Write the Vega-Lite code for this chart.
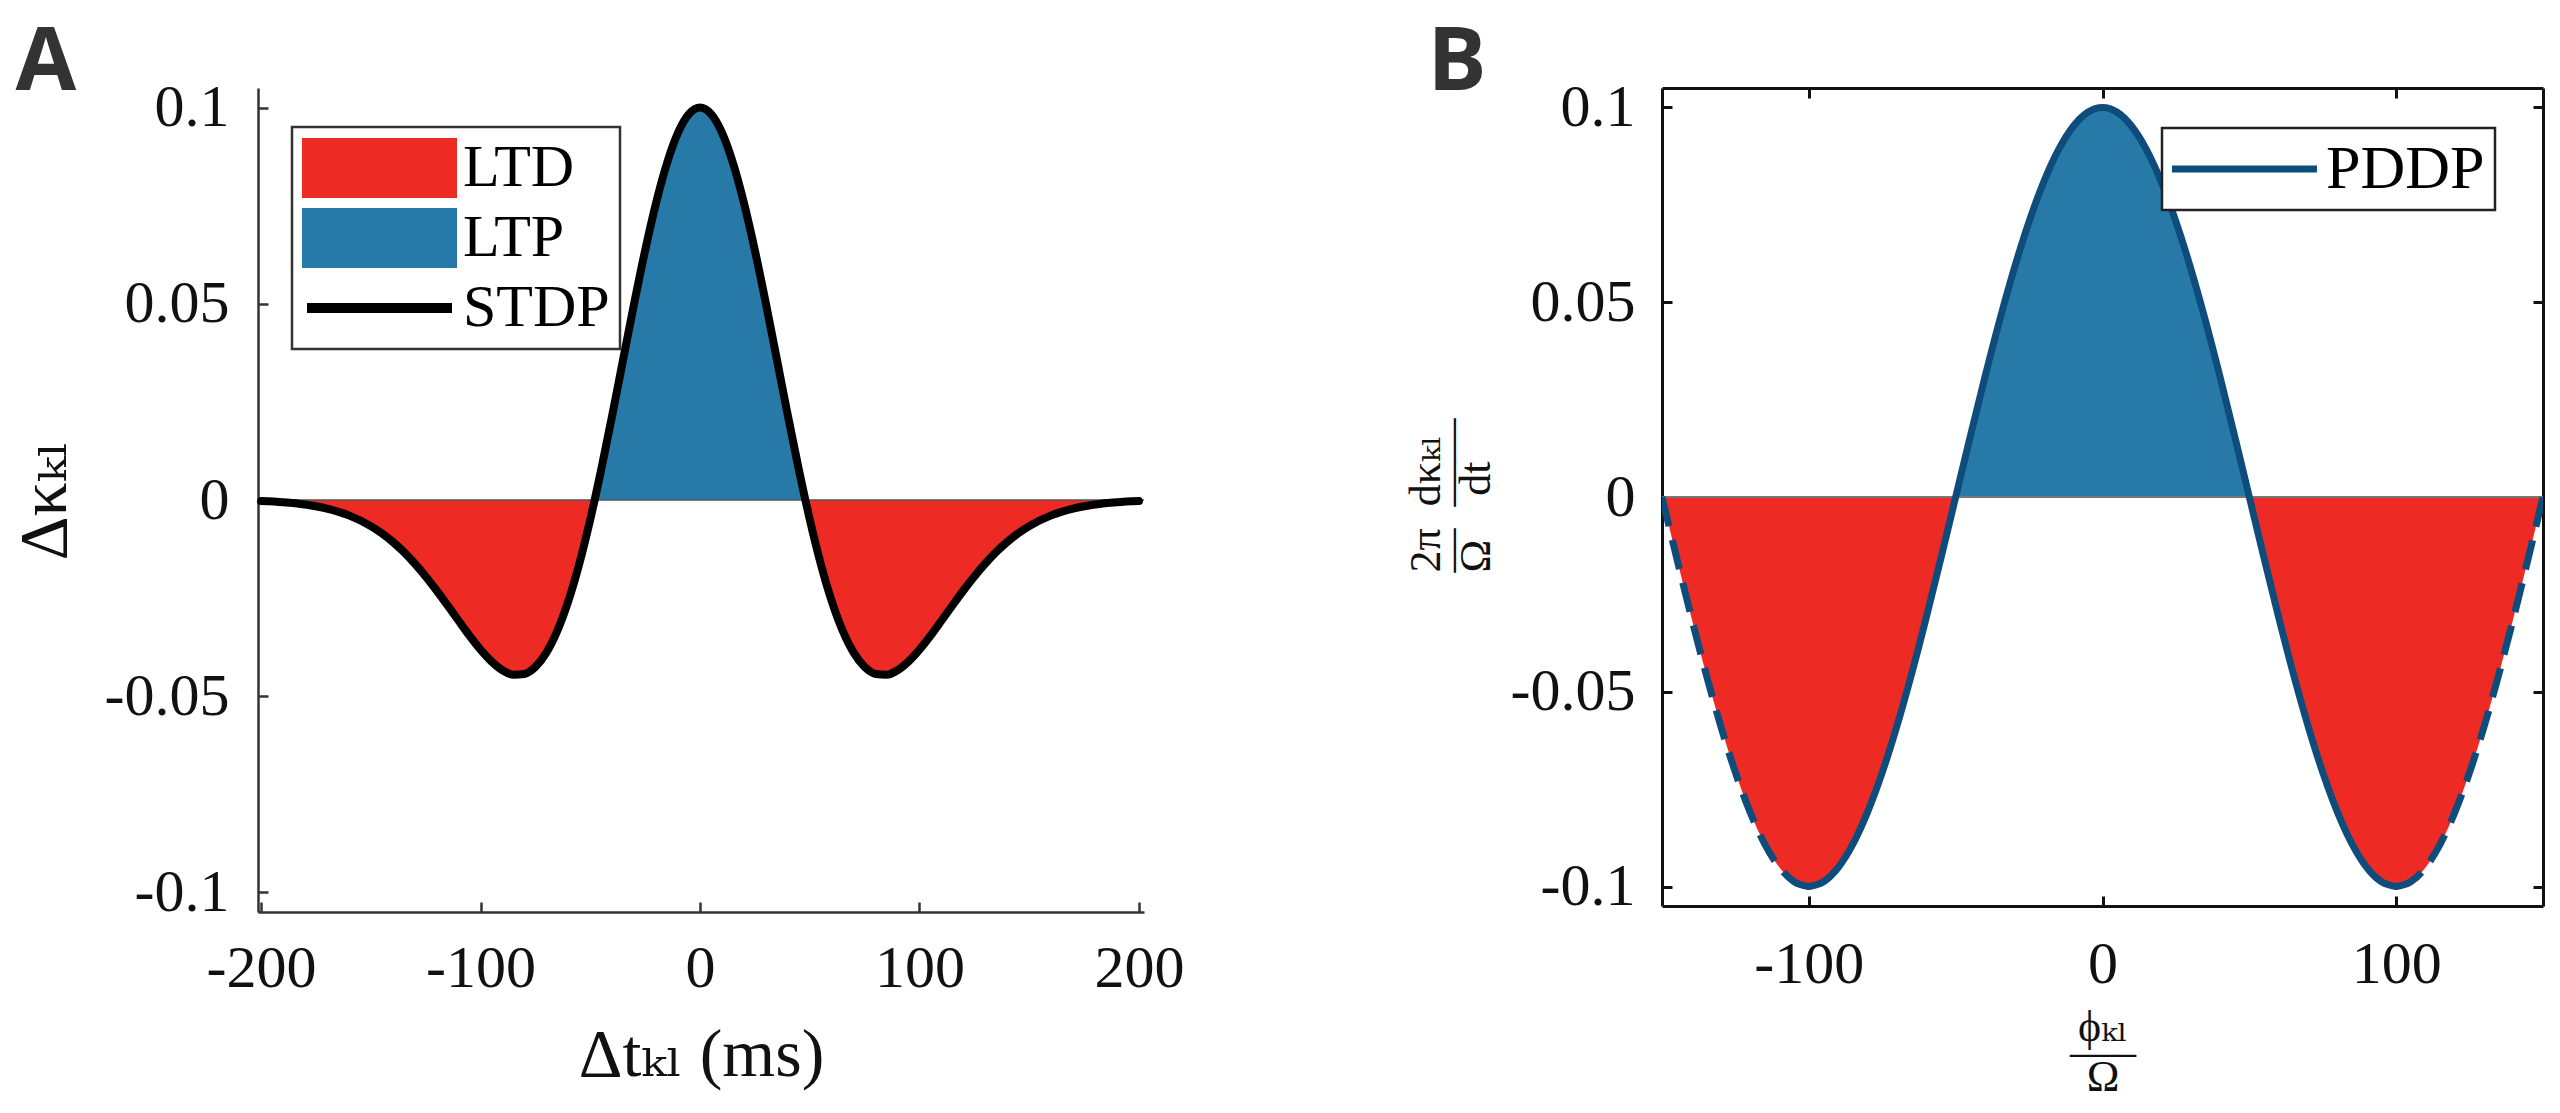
{
  "$schema": "https://vega.github.io/schema/vega-lite/v6.json",
  "background": "white",
  "padding": {"left": 11, "top": 19, "right": 0, "bottom": 0},
  "spacing": 220,
  "datasets": {
    "stdp": [
      {"t": -200, "v": -0.00028}, {"t": -190, "v": -0.00058}, {"t": -180, "v": -0.00115}, {"t": -170, "v": -0.00218},
      {"t": -160, "v": -0.00391}, {"t": -150, "v": -0.00664}, {"t": -145, "v": -0.00848}, {"t": -140, "v": -0.01067},
      {"t": -135, "v": -0.01323}, {"t": -130, "v": -0.01618}, {"t": -125, "v": -0.01947}, {"t": -120, "v": -0.02307},
      {"t": -115, "v": -0.02688}, {"t": -110, "v": -0.03077}, {"t": -105, "v": -0.0346}, {"t": -100, "v": -0.03813},
      {"t": -95, "v": -0.04115}, {"t": -90, "v": -0.04338}, {"t": -85, "v": -0.04453}, {"t": -80, "v": -0.04433},
      {"t": -75, "v": -0.04253}, {"t": -70, "v": -0.03891}, {"t": -65, "v": -0.03333}, {"t": -60, "v": -0.02575},
      {"t": -55, "v": -0.01623}, {"t": -50, "v": -0.00494}, {"t": -48, "v": 0}, {"t": -45, "v": 0.0078},
      {"t": -40, "v": 0.02159}, {"t": -35, "v": 0.0359}, {"t": -30, "v": 0.05013}, {"t": -25, "v": 0.06363},
      {"t": -20, "v": 0.07577}, {"t": -15, "v": 0.08593}, {"t": -10, "v": 0.09361}, {"t": -5, "v": 0.09838},
      {"t": 0, "v": 0.1},
      {"t": 5, "v": 0.09838}, {"t": 10, "v": 0.09361}, {"t": 15, "v": 0.08593}, {"t": 20, "v": 0.07577},
      {"t": 25, "v": 0.06363}, {"t": 30, "v": 0.05013}, {"t": 35, "v": 0.0359}, {"t": 40, "v": 0.02159},
      {"t": 45, "v": 0.0078}, {"t": 48, "v": 0}, {"t": 50, "v": -0.00494}, {"t": 55, "v": -0.01623},
      {"t": 60, "v": -0.02575}, {"t": 65, "v": -0.03333}, {"t": 70, "v": -0.03891}, {"t": 75, "v": -0.04253},
      {"t": 80, "v": -0.04433}, {"t": 85, "v": -0.04453}, {"t": 90, "v": -0.04338}, {"t": 95, "v": -0.04115},
      {"t": 100, "v": -0.03813}, {"t": 105, "v": -0.0346}, {"t": 110, "v": -0.03077}, {"t": 115, "v": -0.02688},
      {"t": 120, "v": -0.02307}, {"t": 125, "v": -0.01947}, {"t": 130, "v": -0.01618}, {"t": 135, "v": -0.01323},
      {"t": 140, "v": -0.01067}, {"t": 145, "v": -0.00848}, {"t": 150, "v": -0.00664}, {"t": 160, "v": -0.00391},
      {"t": 170, "v": -0.00218}, {"t": 180, "v": -0.00115}, {"t": 190, "v": -0.00058}, {"t": 200, "v": -0.00028}
    ],
    "pddp": [
      {"phi": -150, "v": 0}, {"phi": -145, "v": -0.01564}, {"phi": -140, "v": -0.0309}, {"phi": -135, "v": -0.0454},
      {"phi": -130, "v": -0.05878}, {"phi": -125, "v": -0.07071}, {"phi": -120, "v": -0.0809}, {"phi": -115, "v": -0.0891},
      {"phi": -110, "v": -0.09511}, {"phi": -105, "v": -0.09877}, {"phi": -100, "v": -0.1}, {"phi": -95, "v": -0.09877},
      {"phi": -90, "v": -0.09511}, {"phi": -85, "v": -0.0891}, {"phi": -80, "v": -0.0809}, {"phi": -75, "v": -0.07071},
      {"phi": -70, "v": -0.05878}, {"phi": -65, "v": -0.0454}, {"phi": -60, "v": -0.0309}, {"phi": -55, "v": -0.01564},
      {"phi": -50, "v": 0}, {"phi": -45, "v": 0.01564}, {"phi": -40, "v": 0.0309}, {"phi": -35, "v": 0.0454},
      {"phi": -30, "v": 0.05878}, {"phi": -25, "v": 0.07071}, {"phi": -20, "v": 0.0809}, {"phi": -15, "v": 0.0891},
      {"phi": -10, "v": 0.09511}, {"phi": -5, "v": 0.09877}, {"phi": 0, "v": 0.1},
      {"phi": 5, "v": 0.09877}, {"phi": 10, "v": 0.09511}, {"phi": 15, "v": 0.0891}, {"phi": 20, "v": 0.0809},
      {"phi": 25, "v": 0.07071}, {"phi": 30, "v": 0.05878}, {"phi": 35, "v": 0.0454}, {"phi": 40, "v": 0.0309},
      {"phi": 45, "v": 0.01564}, {"phi": 50, "v": 0}, {"phi": 55, "v": -0.01564}, {"phi": 60, "v": -0.0309},
      {"phi": 65, "v": -0.0454}, {"phi": 70, "v": -0.05878}, {"phi": 75, "v": -0.07071}, {"phi": 80, "v": -0.0809},
      {"phi": 85, "v": -0.0891}, {"phi": 90, "v": -0.09511}, {"phi": 95, "v": -0.09877}, {"phi": 100, "v": -0.1},
      {"phi": 105, "v": -0.09877}, {"phi": 110, "v": -0.09511}, {"phi": 115, "v": -0.0891}, {"phi": 120, "v": -0.0809},
      {"phi": 125, "v": -0.07071}, {"phi": 130, "v": -0.05878}, {"phi": 135, "v": -0.0454}, {"phi": 140, "v": -0.0309},
      {"phi": 145, "v": -0.01564}, {"phi": 150, "v": 0}
    ]
  },
  "config": {
    "view": {"stroke": null},
    "axis": {
      "grid": false,
      "labelFont": "Liberation Serif",
      "labelFontSize": 60,
      "labelColor": "#111111",
      "labelFlush": false,
      "labelOverlap": false,
      "titleFont": "Liberation Serif, DejaVu Serif",
      "titleFontWeight": "normal",
      "titleColor": "#111111",
      "tickSize": -10,
      "tickColor": "#333333",
      "tickWidth": 2.5,
      "domainColor": "#333333",
      "domainWidth": 2.5
    }
  },
  "resolve": {"scale": {"color": "independent"}, "legend": {"color": "independent"}},
  "hconcat": [
    {
      "width": 886,
      "height": 824,
      "data": {"name": "stdp"},
      "resolve": {"axis": {"x": "independent", "y": "independent"}},
      "layer": [
        {
          "transform": [{"filter": "datum.v <= 0"}],
          "mark": {"type": "area", "interpolate": "monotone"},
          "encoding": {
            "x": {"field": "t", "type": "quantitative", "scale": {"domain": [-201.4, 202.3], "nice": false, "zero": false},
              "axis": {"orient": "bottom", "values": [-200, -100, 0, 100, 200], "labelPadding": 37, "labelExpr": "replace(datum.label, '−', '-')",
                "title": "Δtₖₗ (ms)", "titleFontSize": 68, "titleY": 163, "titleBaseline": "alphabetic"}},
            "y": {"field": "v", "type": "quantitative", "scale": {"domain": [-0.105, 0.105], "nice": false, "zero": false},
              "axis": {"orient": "left", "values": [-0.1, -0.05, 0, 0.05, 0.1], "labelPadding": 39, "labelExpr": "'' + datum.value",
                "title": "Δκₖₗ", "titleFontSize": 68, "titleAngle": -90, "titleX": -193, "titleBaseline": "alphabetic"}},
            "y2": {"datum": 0},
            "color": {"datum": "LTD", "type": "nominal",
              "scale": {"domain": ["LTD", "LTP", "STDP"], "range": ["#ED2B24", "#277AA7", "#000000"]},
              "legend": {"title": null, "orient": "none", "legendX": 34, "legendY": 39, "padding": 10, "rowPadding": 8, "clipHeight": 62,
                "fillColor": "white", "strokeColor": "#333333",
                "symbolType": "M-14.5,-5H14.5V5H-14.5Z", "symbolSize": 100, "symbolStrokeWidth": 10, "symbolOffset": 47.5,
                "labelOffset": 53.5, "labelFont": "Liberation Serif", "labelFontSize": 60, "labelColor": "#000000",
                "encode": {
                  "legend": {"update": {"strokeWidth": {"value": 2.5}}},
                  "symbols": {"update": {
                    "shape": {"signal": "datum.value === 'STDP' ? 'M-14.5,0H14.5' : 'M-14.5,-5H14.5V5H-14.5Z'"},
                    "fill": {"signal": "datum.value === 'LTD' ? '#ED2B24' : datum.value === 'LTP' ? '#277AA7' : 'transparent'"},
                    "stroke": {"signal": "datum.value === 'STDP' ? '#000000' : 'transparent'"},
                    "strokeWidth": {"value": 10},
                    "strokeCap": {"value": "butt"},
                    "opacity": {"value": 1}
                  }}
                }}}
          }
        },
        {
          "transform": [{"filter": "datum.v >= 0"}],
          "mark": {"type": "area", "interpolate": "monotone"},
          "encoding": {
            "x": {"field": "t", "type": "quantitative", "axis": null},
            "y": {"field": "v", "type": "quantitative", "axis": null},
            "y2": {"datum": 0},
            "color": {"datum": "LTP", "type": "nominal"}
          }
        },
        {
          "data": {"values": [{}]},
          "mark": {"type": "rule", "color": "#555555", "strokeWidth": 1.5},
          "encoding": {"y": {"datum": 0, "type": "quantitative", "axis": null}}
        },
        {
          "mark": {"type": "line", "strokeWidth": 8, "interpolate": "monotone", "strokeCap": "round"},
          "encoding": {
            "x": {"field": "t", "type": "quantitative",
              "axis": {"orient": "top", "domain": false, "ticks": false, "labels": false,
                "title": "A", "titleFont": "Open Sans", "titleFontWeight": "bold", "titleFontSize": 88, "titleColor": "#333333",
                "titleAlign": "left", "titleAngle": 0, "titleBaseline": "alphabetic", "titleX": -243, "titleY": 1}},
            "y": {"field": "v", "type": "quantitative", "axis": null},
            "color": {"datum": "STDP", "type": "nominal"}
          }
        }
      ]
    },
    {
      "width": 881,
      "height": 818,
      "data": {"name": "pddp"},
      "resolve": {"axis": {"x": "independent", "y": "independent"}},
      "layer": [
        {
          "transform": [{"filter": "datum.v >= 0"}],
          "mark": {"type": "area", "interpolate": "monotone", "color": "#277AA7"},
          "encoding": {
            "x": {"field": "phi", "type": "quantitative", "scale": {"domain": [-150, 150], "nice": false, "zero": false},
              "axis": {"orient": "bottom", "values": [-100, 0, 100], "labelPadding": 39, "labelExpr": "replace(datum.label, '−', '-')",
                "domainColor": "#111111", "domainWidth": 3, "tickColor": "#111111", "tickWidth": 3,
                "title": ["ϕₖₗ", "—–", "Ω"], "titleFontSize": 44, "titleLineHeight": 25, "titleY": 134, "titleBaseline": "alphabetic", "titleAlign": "center"}},
            "y": {"field": "v", "type": "quantitative", "scale": {"domain": [-0.105, 0.105], "nice": false, "zero": false},
              "axis": {"orient": "left", "values": [-0.1, -0.05, 0, 0.05, 0.1], "labelPadding": 37, "labelExpr": "'' + datum.value",
                "domainColor": "#111111", "domainWidth": 3, "tickColor": "#111111", "tickWidth": 3,
                "title": ["2π\u00a0\u00a0dκₖₗ", "—\u00a0\u00a0——", "\u00a0Ω\u00a0\u00a0\u00a0\u00a0dt"], "titleFontSize": 44, "titleLineHeight": 25,
                "titleAngle": -90, "titleAlign": "left", "titleBaseline": "alphabetic", "titleX": -223, "titleY": 484}},
            "y2": {"datum": 0}
          }
        },
        {
          "transform": [{"filter": "datum.v <= 0"}],
          "mark": {"type": "area", "interpolate": "monotone", "color": "#ED2B24"},
          "encoding": {
            "x": {"field": "phi", "type": "quantitative", "axis": null},
            "y": {"field": "v", "type": "quantitative", "axis": null},
            "y2": {"datum": 0}
          }
        },
        {
          "data": {"values": [{}]},
          "mark": {"type": "rule", "color": "#777777", "strokeWidth": 2},
          "encoding": {"y": {"datum": 0, "type": "quantitative", "axis": null}}
        },
        {
          "transform": [{"filter": "datum.phi >= -100 && datum.phi <= 100"}],
          "mark": {"type": "line", "strokeWidth": 7, "interpolate": "monotone", "strokeCap": "round"},
          "encoding": {
            "x": {"field": "phi", "type": "quantitative",
              "axis": {"orient": "top", "values": [-100, 0, 100], "labels": false,
                "domainColor": "#111111", "domainWidth": 3, "tickColor": "#111111", "tickWidth": 3,
                "title": "B", "titleFont": "Open Sans", "titleFontWeight": "bold", "titleFontSize": 88, "titleColor": "#333333",
                "titleAlign": "left", "titleAngle": 0, "titleBaseline": "alphabetic", "titleX": -235, "titleY": 1}},
            "y": {"field": "v", "type": "quantitative",
              "axis": {"orient": "right", "values": [-0.1, -0.05, 0, 0.05, 0.1], "labels": false, "title": null,
                "domainColor": "#111111", "domainWidth": 3, "tickColor": "#111111", "tickWidth": 3}},
            "color": {"datum": "PDDP", "type": "nominal",
              "scale": {"domain": ["PDDP"], "range": ["#0E4C7C"]},
              "legend": {"title": null, "orient": "none", "legendX": 500, "legendY": 40, "padding": 10,
                "fillColor": "white", "strokeColor": "#222222",
                "symbolType": "M-14.5,0H14.5", "symbolSize": 100, "symbolStrokeWidth": 7, "symbolOffset": 41.5,
                "labelOffset": 50.5, "labelFont": "Liberation Serif", "labelFontSize": 62, "labelColor": "#000000",
                "encode": {
                  "legend": {"update": {"strokeWidth": {"value": 2.5}}},
                  "symbols": {"update": {
                    "shape": {"value": "M-14.5,0H14.5"},
                    "fill": {"value": "transparent"},
                    "stroke": {"value": "#0E4C7C"},
                    "strokeWidth": {"value": 7},
                    "strokeCap": {"value": "butt"},
                    "opacity": {"value": 1}
                  }}
                }}}
          }
        },
        {
          "transform": [{"filter": "datum.phi <= -100"}],
          "mark": {"type": "line", "strokeWidth": 7, "interpolate": "monotone", "strokeDash": [30, 14], "color": "#0E4C7C", "clip": true},
          "encoding": {
            "x": {"field": "phi", "type": "quantitative", "axis": null},
            "y": {"field": "v", "type": "quantitative", "axis": null}
          }
        },
        {
          "transform": [{"filter": "datum.phi >= 100"}],
          "mark": {"type": "line", "strokeWidth": 7, "interpolate": "monotone", "strokeDash": [30, 14], "color": "#0E4C7C", "clip": true},
          "encoding": {
            "x": {"field": "phi", "type": "quantitative", "axis": null},
            "y": {"field": "v", "type": "quantitative", "axis": null}
          }
        }
      ]
    }
  ]
}
